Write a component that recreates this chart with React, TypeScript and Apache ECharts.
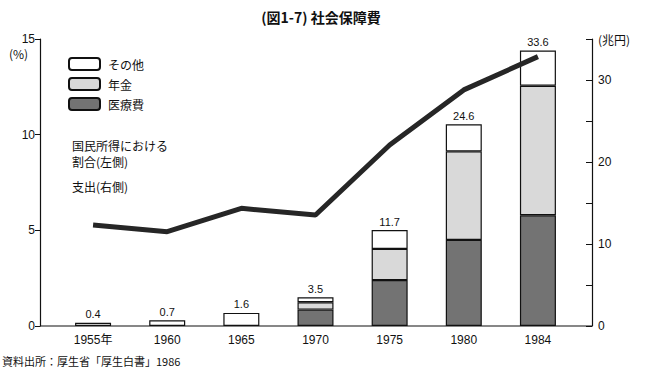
import React, { useEffect, useRef } from "react";
import * as echarts from "echarts";

const years = ["1955年", "1960", "1965", "1970", "1975", "1980", "1984"];
const ratioPct = [5.28, 4.93, 6.15, 5.8, 9.46, 12.34, 14.08];
const medical = [null, null, null, 2.0, 5.6, 10.5, 13.5];
const pension = [null, null, null, 0.9, 3.8, 10.8, 15.8];
const other = [0.4, 0.7, 1.6, 0.6, 2.3, 3.3, 4.3];
const totals = [0.4, 0.7, 1.6, 3.5, 11.7, 24.6, 33.6];

const FONT = "'Liberation Sans', 'Noto Sans CJK JP', sans-serif";
const JFONT = "'Noto Sans CJK JP', sans-serif";
const INK = "#111";

export default function App() {
  const ref = useRef<HTMLDivElement>(null);
  useEffect(() => {
    if (!ref.current) return;
    const chart = echarts.init(ref.current, null, { renderer: "svg" });
    const barBase = {
      type: "bar",
      stack: "total",
      yAxisIndex: 1,
      barWidth: 36,
      z: 2,
    };
    chart.setOption({
      animation: false,
      backgroundColor: "#fff",
      title: {
        text: "(図1-7) 社会保障費",
        left: 316,
        textAlign: "center",
        top: 5,
        textStyle: { fontFamily: JFONT, fontSize: 14, fontWeight: "bold", color: INK },
      },
      grid: { left: 56, right: 70, top: 39, bottom: 54 },
      legend: {
        orient: "vertical",
        left: 68,
        top: 57,
        padding: 0,
        itemWidth: 31,
        itemHeight: 12,
        itemGap: 6,
        data: ["その他", "年金", "医療費"],
        textStyle: { fontFamily: JFONT, fontSize: 12, color: INK, padding: [0, 0, 0, 3] },
      },
      xAxis: {
        type: "category",
        data: years,
        axisLine: { show: false },
        axisTick: { show: false },
        axisLabel: { margin: 8, fontFamily: FONT, fontSize: 12, color: INK },
      },
      yAxis: [
        {
          type: "value",
          position: "left",
          offset: 16,
          min: 0,
          max: 15,
          interval: 5,
          splitLine: { show: false },
          axisLine: { show: true, lineStyle: { color: INK, width: 1.2 } },
          axisTick: { show: true, length: 5, lineStyle: { color: INK } },
          axisLabel: { margin: 5, fontFamily: FONT, fontSize: 12, color: INK },
        },
        {
          type: "value",
          position: "right",
          offset: 17,
          min: 0,
          max: 35,
          interval: 5,
          name: "(兆円)",
          nameLocation: "end",
          nameGap: -6,
          nameTextStyle: { fontFamily: JFONT, fontSize: 12, color: INK, align: "left", padding: [0, 0, 0, 6] },
          splitLine: { show: false },
          axisLine: { show: true, lineStyle: { color: INK, width: 1.2 } },
          axisTick: { show: true, inside: true, length: 6, lineStyle: { color: INK } },
          axisLabel: {
            margin: 6,
            fontFamily: FONT,
            fontSize: 12,
            color: INK,
            formatter: (v: number) => (v % 10 === 0 ? String(v) : ""),
          },
        },
      ],
      series: [
        {
          ...barBase,
          name: "医療費",
          data: medical,
          itemStyle: { color: "#737373", borderColor: INK, borderWidth: 1.2 },
        },
        {
          ...barBase,
          name: "年金",
          data: pension,
          itemStyle: { color: "#d9d9d9", borderColor: INK, borderWidth: 1.2 },
        },
        {
          ...barBase,
          name: "その他",
          data: other,
          itemStyle: { color: "#ffffff", borderColor: INK, borderWidth: 1.2 },
          label: {
            show: true,
            position: "top",
            distance: 3,
            fontFamily: FONT,
            fontSize: 11,
            color: INK,
            formatter: (p: any) => totals[p.dataIndex].toFixed(1),
          },
        },
        {
          type: "line",
          name: "国民所得における割合",
          yAxisIndex: 0,
          data: ratioPct,
          symbol: "none",
          z: 5,
          lineStyle: { color: "#262626", width: 5 },
        },
      ],
      graphic: [
        { type: "line", shape: { x1: 40, y1: 326, x2: 592, y2: 326 }, style: { stroke: INK, lineWidth: 1.2 } },
        { type: "text", left: 9, top: 47, style: { text: "(%)", fontFamily: JFONT, fontSize: 12, fill: INK } },
        {
          type: "text",
          left: 72,
          top: 137,
          style: { text: "国民所得における\n割合(左側)", fontFamily: JFONT, fontSize: 12, lineHeight: 16, fill: INK },
        },
        { type: "text", left: 72, top: 180, style: { text: "支出(右側)", fontFamily: JFONT, fontSize: 12, fill: INK } },
        {
          type: "text",
          left: 2,
          top: 355,
          style: { text: "資料出所：厚生省「厚生白書」1986", fontFamily: JFONT, fontSize: 11, fill: INK },
        },
      ],
    });
    return () => chart.dispose();
  }, []);
  return <div ref={ref} style={{ position: "fixed", left: 0, top: 0, width: 645, height: 380 }} />;
}
